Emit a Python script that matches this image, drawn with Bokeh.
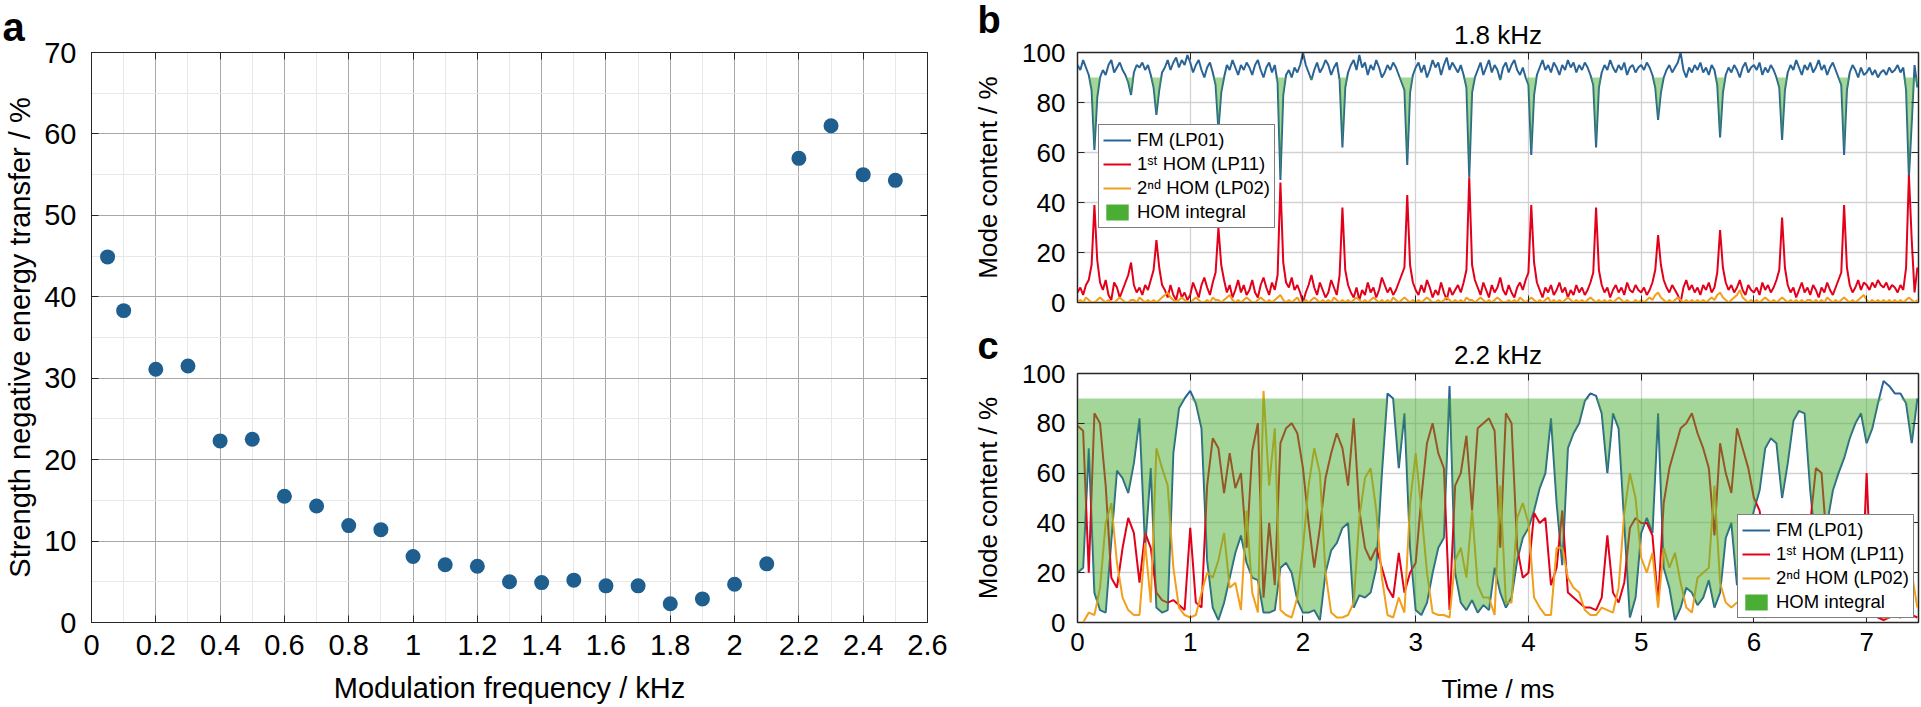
import numpy as np
from bokeh.plotting import figure
from bokeh.layouts import row, column
from bokeh.models import FixedTicker, LinearAxis, Legend, LegendItem, Range1d, Title
from bokeh.embed import file_html
from bokeh.resources import INLINE

FONT = "Liberation Sans"

# ---------------- panel a data ----------------
freq_khz = [0.05, 0.1, 0.2, 0.3, 0.4, 0.5, 0.6, 0.7, 0.8, 0.9, 1.0, 1.1, 1.2,
            1.3, 1.4, 1.5, 1.6, 1.7, 1.8, 1.9, 2.0, 2.1, 2.2, 2.3, 2.4, 2.5]
strength_pct = [44.9, 38.3, 31.1, 31.5, 22.3, 22.5, 15.5, 14.3, 11.9, 11.4, 8.1, 7.1, 6.9,
                5.0, 4.9, 5.2, 4.5, 4.5, 2.3, 2.9, 4.7, 7.2, 57.0, 61.0, 55.0, 54.3]
xticks_a = [0, 0.2, 0.4, 0.6, 0.8, 1, 1.2, 1.4, 1.6, 1.8, 2, 2.2, 2.4, 2.6]
yticks_a = [0, 10, 20, 30, 40, 50, 60, 70]

# ---------------- panels b / c common ----------------
time_ticks = [0, 1, 2, 3, 4, 5, 6, 7]
mode_ticks = [0, 20, 40, 60, 80, 100]
hom_level = 90          # level of the "HOM integral" shading
dt_b = 0.025            # ms, sampling of panel b
dt_c = 0.05             # ms, sampling of panel c

# ---------------- panel b data (1.8 kHz) ----------------
fm_b = [
    95, 93, 97, 94, 91, 85, 61, 82, 90, 93, 91, 95, 97, 92, 94, 96, 93, 91, 88, 83,
    92, 95, 94, 96, 93, 95, 91, 86, 75, 85, 92, 94, 97, 93, 96, 98, 94, 97, 95, 99,
    96, 92, 95, 97, 93, 90, 94, 96, 92, 87, 69, 84, 90, 95, 93, 97, 94, 91, 95, 93,
    96, 94, 91, 95, 97, 93, 90, 94, 96, 92, 95, 88, 49, 83, 91, 93, 90, 94, 92, 95,
    100, 95, 92, 89, 93, 96, 92, 94, 97, 95, 91, 94, 96, 89, 62, 86, 92, 95, 97, 93,
    99, 94, 96, 91, 95, 93, 97, 94, 90, 92, 95, 93, 96, 94, 91, 88, 85, 55, 84, 91,
    94, 96, 92, 95, 90, 93, 97, 94, 96, 91, 95, 98, 93, 96, 94, 92, 95, 91, 86, 50,
    84, 90, 93, 96, 91, 94, 97, 92, 95, 93, 89, 94, 96, 92, 95, 97, 93, 91, 94, 90,
    87, 59, 83, 91, 94, 97, 93, 95, 92, 96, 94, 91, 95, 93, 97, 94, 96, 92, 95, 93,
    96, 94, 91, 87, 62, 86, 92, 95, 93, 97, 94, 92, 95, 93, 96, 91, 94, 95, 92, 94,
    95, 93, 96, 94, 91, 86, 73, 84, 90, 93, 95, 92, 94, 96, 100, 93, 90, 94, 92, 95,
    93, 96, 92, 94, 91, 95, 93, 87, 66, 84, 91, 94, 92, 95, 93, 90, 94, 96, 92, 94,
    95, 93, 96, 91, 94, 92, 95, 93, 90, 86, 65, 85, 92, 95, 93, 97, 94, 91, 95, 93,
    96, 92, 94, 97, 93, 95, 91, 94, 96, 93, 90, 87, 59, 85, 92, 95, 93, 90, 94, 91,
    92, 94, 91, 93, 90, 92, 93, 91, 94, 92, 93, 95, 92, 94, 85, 50, 72, 95, 86]
hom1_b = [
    4, 6, 3, 7, 9, 15, 39, 17, 8, 5, 9, 3, 1, 8, 6, 2, 5, 8, 11, 16,
    7, 4, 6, 3, 7, 5, 9, 13, 25, 14, 7, 5, 2, 7, 3, 1, 6, 2, 4, 1,
    3, 8, 5, 2, 7, 10, 6, 3, 8, 12, 30, 15, 9, 4, 7, 2, 5, 9, 4, 7,
    3, 5, 9, 4, 2, 7, 10, 6, 3, 8, 5, 11, 48, 16, 8, 6, 10, 5, 7, 4,
    0, 4, 7, 11, 6, 3, 8, 5, 2, 4, 9, 6, 3, 11, 38, 13, 7, 4, 2, 6,
    1, 5, 3, 8, 4, 6, 2, 5, 10, 7, 4, 6, 3, 5, 8, 11, 14, 43, 15, 8,
    5, 3, 7, 4, 9, 6, 2, 5, 3, 8, 4, 1, 6, 3, 5, 7, 4, 8, 13, 50,
    15, 9, 6, 3, 8, 5, 2, 7, 4, 6, 10, 5, 3, 7, 4, 2, 6, 8, 5, 9,
    12, 39, 16, 8, 5, 2, 6, 4, 7, 3, 5, 8, 4, 6, 2, 5, 3, 7, 4, 6,
    3, 5, 8, 12, 38, 13, 7, 4, 6, 2, 5, 7, 4, 6, 3, 8, 5, 4, 7, 5,
    4, 6, 3, 5, 8, 13, 27, 15, 9, 6, 4, 7, 5, 3, 0, 6, 9, 5, 7, 4,
    6, 3, 7, 5, 8, 4, 6, 12, 29, 14, 8, 5, 7, 4, 6, 9, 5, 3, 7, 5,
    4, 6, 3, 8, 5, 7, 4, 6, 9, 13, 34, 14, 7, 4, 6, 2, 5, 8, 4, 6,
    3, 7, 5, 2, 6, 4, 8, 5, 3, 6, 9, 12, 39, 14, 7, 4, 6, 9, 5, 8,
    7, 5, 8, 6, 9, 7, 6, 8, 5, 7, 6, 4, 7, 5, 14, 51, 25, 4, 14]
hom2_b = [
    0, 1, 0, 2, 1, 0, 0, 1, 2, 1, 0, 1, 0, 0, 1, 2, 1, 0, 0, 1,
    1, 0, 2, 1, 0, 1, 0, 1, 0, 1, 2, 3, 4, 2, 1, 0, 1, 2, 1, 0,
    0, 1, 2, 1, 0, 0, 1, 0, 2, 1, 1, 0, 1, 2, 3, 1, 0, 1, 0, 1,
    2, 1, 0, 0, 1, 2, 1, 0, 1, 0, 1, 2, 3, 1, 0, 1, 0, 1, 2, 0,
    0, 1, 0, 1, 2, 1, 0, 1, 0, 1, 0, 2, 1, 0, 1, 0, 1, 0, 1, 2,
    1, 0, 1, 0, 1, 2, 1, 0, 1, 0, 1, 0, 2, 1, 0, 1, 2, 1, 0, 1,
    0, 1, 0, 1, 2, 1, 0, 0, 1, 0, 1, 2, 1, 0, 1, 0, 1, 0, 2, 1,
    1, 0, 1, 2, 1, 0, 1, 0, 1, 2, 1, 0, 0, 1, 0, 1, 0, 2, 1, 0,
    1, 2, 1, 0, 1, 0, 1, 2, 0, 1, 0, 1, 0, 1, 2, 1, 0, 1, 0, 1,
    0, 1, 2, 1, 0, 1, 0, 1, 0, 1, 0, 1, 2, 1, 0, 1, 0, 0, 1, 0,
    1, 0, 1, 2, 1, 3, 4, 2, 1, 0, 1, 0, 1, 2, 1, 0, 1, 0, 1, 0,
    1, 0, 1, 0, 1, 2, 1, 3, 4, 2, 1, 0, 1, 2, 3, 5, 2, 1, 0, 1,
    0, 1, 0, 1, 2, 1, 0, 1, 0, 1, 2, 1, 0, 1, 0, 1, 0, 1, 0, 1,
    1, 0, 1, 0, 1, 0, 2, 1, 0, 1, 0, 1, 2, 1, 0, 1, 0, 1, 2, 3,
    1, 0, 1, 0, 1, 0, 1, 0, 1, 0, 1, 0, 1, 0, 1, 2, 1, 0, 1]

# ---------------- panel c data (2.2 kHz) ----------------
fm_c = [
    20, 22, 70, 12, 5, 4, 33, 61, 58, 52, 64, 82, 30, 62, 6, 4, 5, 68, 86, 90,
    93, 88, 78, 25, 6, 1, 8, 18, 28, 35, 24, 18, 17, 4, 4, 5, 22, 24, 20, 9,
    4, 4, 5, 1, 20, 29, 32, 38, 40, 6, 11, 10, 12, 22, 60, 92, 90, 62, 84, 30,
    5, 3, 8, 20, 30, 34, 95, 20, 8, 5, 9, 4, 7, 5, 22, 12, 6, 10, 25, 34,
    38, 45, 54, 60, 82, 48, 23, 70, 76, 80, 89, 92, 91, 84, 60, 84, 78, 40, 2, 10,
    36, 42, 36, 84, 22, 14, 1, 6, 14, 12, 7, 10, 17, 6, 12, 34, 40, 15, 20, 35,
    45, 53, 70, 74, 72, 50, 64, 81, 85, 84, 53, 30, 27, 40, 53, 60, 66, 74, 80, 84,
    72, 78, 88, 97, 95, 92, 92, 88, 72, 90]
hom1_c = [
    79, 77, 20, 84, 80, 55, 18, 14, 30, 42, 36, 16, 36, 30, 12, 9, 8, 9, 7, 5,
    38, 8, 6, 55, 74, 70, 52, 68, 54, 60, 30, 69, 80, 10, 40, 15, 72, 78, 80, 76,
    62, 40, 22, 38, 58, 68, 76, 70, 55, 82, 45, 30, 25, 30, 22, 14, 10, 28, 12, 20,
    24, 50, 72, 80, 68, 62, 5, 55, 60, 75, 45, 78, 80, 82, 77, 30, 84, 80, 30, 18,
    20, 44, 40, 42, 15, 22, 45, 12, 10, 8, 6, 6, 5, 10, 35, 12, 8, 16, 38, 42,
    40, 40, 35, 8, 48, 62, 70, 78, 80, 84, 76, 70, 62, 35, 72, 60, 52, 78, 70, 62,
    50, 45, 30, 20, 10, 12, 8, 6, 8, 10, 40, 62, 60, 30, 14, 10, 8, 16, 12, 5,
    60, 4, 2, 1, 2, 3, 2, 4, 3, 2]
hom2_c = [
    0, 0, 4, 3, 14, 40, 48, 24, 10, 5, 3, 3, 32, 8, 70, 62, 55, 22, 6, 3,
    2, 3, 12, 20, 18, 25, 36, 14, 16, 5, 45, 12, 4, 93, 55, 78, 5, 3, 2, 10,
    30, 55, 70, 60, 20, 4, 2, 2, 3, 8, 42, 58, 62, 45, 18, 3, 2, 10, 4, 48,
    68, 45, 20, 4, 3, 3, 2, 25, 30, 18, 45, 15, 10, 10, 3, 55, 8, 8, 42, 48,
    40, 10, 6, 3, 3, 30, 30, 18, 14, 12, 5, 3, 3, 6, 5, 4, 14, 44, 60, 50,
    26, 20, 28, 6, 30, 22, 28, 16, 6, 4, 18, 20, 22, 55, 16, 8, 6, 8, 10, 5,
    5, 3, 2, 8, 15, 36, 26, 12, 6, 5, 6, 5, 12, 28, 32, 28, 24, 10, 6, 10,
    4, 16, 8, 2, 2, 4, 5, 6, 20, 6]

# ---------------- colours ----------------
C_DOT = "#1f5f8f"
C_FM = "#2a6496"
C_HOM1 = "#e2001a"
C_HOM2 = "#f29f1c"
C_GREEN = "#4aad34"
C_FRAME = "#262626"

n_b = min(len(fm_b), len(hom1_b), len(hom2_b))
t_b = np.arange(n_b) * dt_b
n_c = min(len(fm_c), len(hom1_c), len(hom2_c))
t_c = np.arange(n_c) * dt_c


def style_axis(ax, size, label_size=None):
    ax.major_label_text_font = FONT
    ax.major_label_text_font_size = size
    ax.major_label_text_color = "black"
    ax.axis_label_text_font = FONT
    ax.axis_label_text_font_style = "normal"
    ax.axis_label_text_font_size = label_size or size
    ax.axis_label_text_color = "black"
    ax.major_tick_in = 7
    ax.major_tick_out = 0
    ax.minor_tick_line_color = None
    ax.major_tick_line_color = C_FRAME
    ax.axis_line_color = C_FRAME


def hide_labels(ax):
    ax.major_label_text_font_size = "0px"
    ax.major_label_text_color = None
    ax.major_label_standoff = 0


def box_axes(p, xticks, yticks):
    for ticks, side in ((xticks, "above"), (yticks, "right")):
        ax = LinearAxis(ticker=FixedTicker(ticks=ticks))
        hide_labels(ax)
        ax.major_tick_in = 7
        ax.major_tick_out = 0
        ax.minor_tick_line_color = None
        ax.major_tick_line_color = C_FRAME
        ax.axis_line_color = C_FRAME
        p.add_layout(ax, side)


def letter_title(p, text, offset, standoff, valign, size):
    p.add_layout(Title(text=text, align="left", offset=offset, vertical_align=valign,
                       standoff=standoff, text_font=FONT, text_font_size=size,
                       text_font_style="bold", text_color="black"), "above")


# ================= panel a =================
pa = figure(width=958, height=706, x_range=Range1d(0, 2.6), y_range=Range1d(0, 70),
            output_backend="svg", toolbar_location=None,
            min_border_left=91, min_border_right=31, min_border_top=52, min_border_bottom=84)
pa.outline_line_color = C_FRAME
pa.xaxis.ticker = FixedTicker(ticks=xticks_a, minor_ticks=[round(0.1 * i, 1) for i in range(27)])
pa.yaxis.ticker = FixedTicker(ticks=yticks_a, minor_ticks=[5 * i for i in range(15)])
pa.xaxis.major_label_overrides = {0: "0", 1: "1", 2: "2"}
style_axis(pa.xaxis[0], "29px")
style_axis(pa.yaxis[0], "29px")
pa.xaxis.major_label_standoff = 8
pa.yaxis.major_label_standoff = 11
pa.xaxis.axis_label_standoff = 14
pa.yaxis.axis_label_standoff = 5
pa.xaxis.axis_label = "Modulation frequency / kHz"
pa.yaxis.axis_label = "Strength negative energy transfer / %"
for g in (pa.xgrid[0], pa.ygrid[0]):
    g.grid_line_color = "#a8a8a8"
    g.grid_line_width = 1
    g.minor_grid_line_color = "#e8e8e8"
    g.minor_grid_line_width = 1
box_axes(pa, xticks_a, yticks_a)
letter_title(pa, "a", -89, 4, "top", "40px")
pa.scatter(freq_khz, strength_pct, size=15, color=C_DOT, line_color=None)


# ================= panels b and c =================
def mode_panel(t, fm, hom1, hom2, title, letter, height, top, bottom, show_x, legend_loc,
               title_standoff, letter_standoff):
    p = figure(width=962, height=height, x_range=Range1d(0, 7.46), y_range=Range1d(0, 100),
               output_backend="svg", toolbar_location=None,
               min_border_left=119, min_border_right=2, min_border_top=top,
               min_border_bottom=bottom)
    p.outline_line_color = C_FRAME
    p.outline_line_width = 1.5
    p.xaxis.ticker = FixedTicker(ticks=time_ticks)
    p.yaxis.ticker = FixedTicker(ticks=mode_ticks)
    style_axis(p.xaxis[0], "26px")
    style_axis(p.yaxis[0], "26px")
    p.yaxis.major_label_standoff = 12
    p.yaxis.axis_label = "Mode content / %"
    p.yaxis.axis_label_standoff = 16
    if show_x:
        p.xaxis.major_label_standoff = 10
        p.xaxis.axis_label = "Time / ms"
        p.xaxis.axis_label_standoff = 20
    else:
        hide_labels(p.xaxis[0])
    for g in (p.xgrid[0], p.ygrid[0]):
        g.grid_line_color = "#d2d2d2"
        g.grid_line_width = 1.3
    box_axes(p, time_ticks, mode_ticks)
    # panel title (nearest the frame) and panel letter (outermost, pulled down beside it)
    p.add_layout(Title(text=title, align="center", standoff=title_standoff, text_font=FONT,
                       text_font_size="26px", text_font_style="normal",
                       text_color="black"), "above")
    letter_title(p, letter, -100, letter_standoff, "bottom", "38px")

    fm = np.asarray(fm, dtype=float)
    level = np.full(len(t), hom_level, dtype=float)
    r_fm = p.line(t, fm, line_color=C_FM, line_width=2)
    r_h1 = p.line(t, hom1, line_color=C_HOM1, line_width=2)
    r_h2 = p.line(t, hom2, line_color=C_HOM2, line_width=2)
    p.varea(x=t, y1=np.minimum(fm, level), y2=level, fill_color=C_GREEN, fill_alpha=0.5)
    # zero-height band at the HOM level, only used for the solid legend swatch
    r_patch = p.varea(x=t, y1=level, y2=level, fill_color=C_GREEN, fill_alpha=1.0)

    legend = Legend(items=[
        LegendItem(label="FM (LP01)", renderers=[r_fm]),
        LegendItem(label="1ˢᵗ HOM (LP11)", renderers=[r_h1]),
        LegendItem(label="2ⁿᵈ HOM (LP02)", renderers=[r_h2]),
        LegendItem(label="HOM integral", renderers=[r_patch]),
    ], location=legend_loc)
    legend.label_text_font = FONT
    legend.label_text_font_size = "18.5px"
    legend.label_text_color = "black"
    legend.border_line_color = "black"
    legend.border_line_width = 1.5
    legend.background_fill_alpha = 1.0
    legend.glyph_width = 28
    legend.glyph_height = 20
    legend.label_height = 20
    legend.label_standoff = 6
    legend.spacing = 2
    legend.padding = 4
    legend.margin = 4
    p.add_layout(legend)
    return p


pb = mode_panel(t_b, fm_b[:n_b], hom1_b[:n_b], hom2_b[:n_b], "1.8 kHz", "b", 322, 52, 20,
                False, (21, 74), 6, -53)
pc = mode_panel(t_c, fm_c[:n_c], hom1_c[:n_c], hom2_c[:n_c], "2.2 kHz", "c", 384, 51, 83,
                True, "bottom_right", 7, -65)

layout = row(pa, column(pb, pc))
open("out.html", "w").write(file_html(layout, INLINE))
